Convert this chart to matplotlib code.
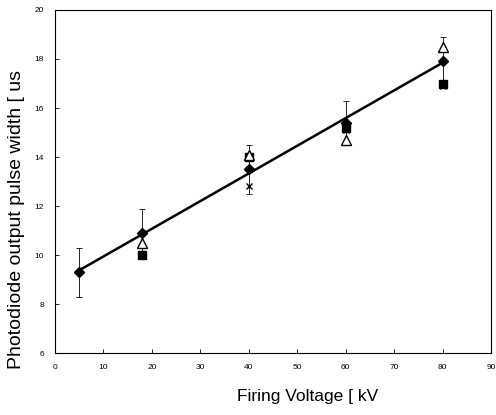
import numpy as np
import matplotlib
matplotlib.use('Agg')
import matplotlib.pyplot as plt

plt.rcParams['font.family'] = ['Liberation Sans', 'DejaVu Sans']

# mean values (diamonds) with error bars
volt_mean = [5, 18, 40, 60, 80]
width_mean = [9.3, 10.9, 13.5, 15.4, 17.9]
width_err = [1.0, 1.0, 1.0, 0.9, 1.0]

# individual runs
volt_tri = [18, 40, 60, 80]
width_tri = [10.5, 14.1, 14.7, 18.5]
volt_sq = [18, 40, 60, 80]
width_sq = [10.0, 14.0, 15.2, 17.0]
volt_star = [40, 60, 80]
width_star = [12.8, 15.1, 16.9]

fig = plt.figure(figsize=(4.96, 4.15), dpi=100)
ax = fig.add_axes([0.111, 0.149, 0.879, 0.827])

# linear fit through the means
k, b = np.polyfit(volt_mean, width_mean, 1)
xs = np.array([volt_mean[0], volt_mean[-1]])
ax.plot(xs, k * xs + b, color='black', lw=1.8, zorder=2)

ax.errorbar(volt_mean, width_mean, yerr=width_err, fmt='none', ecolor='black',
            elinewidth=0.6, capsize=2, capthick=0.6, zorder=1)
ax.plot(volt_sq, width_sq, 's', color='black', ms=5.5, zorder=3)
ax.plot(volt_tri, width_tri, '^', mfc='white', mec='black', mew=1.0, ms=6.5, zorder=4)
ax.plot(volt_star, width_star, 'x', color='black', ms=5, mew=1.0, zorder=3)
ax.plot(volt_mean, width_mean, 'D', color='black', ms=5.5, zorder=5)

ax.set_xlim(0, 90)
ax.set_ylim(6, 20)
ax.set_xticks(range(0, 91, 10))
ax.set_yticks(range(6, 21, 2))
ax.tick_params(direction='in', labelsize=6, length=3, width=0.6, pad=8)
for s in ax.spines.values():
    s.set_linewidth(0.8)

ax.set_xlabel('Firing Voltage [ kV', fontsize=12.5)
ax.set_ylabel('Photodiode output pulse width [ us', fontsize=14)
ax.xaxis.set_label_coords(0.58, -0.105)
ax.yaxis.set_label_coords(-0.068, 0.39)

plt.savefig('out.png', dpi=100)
